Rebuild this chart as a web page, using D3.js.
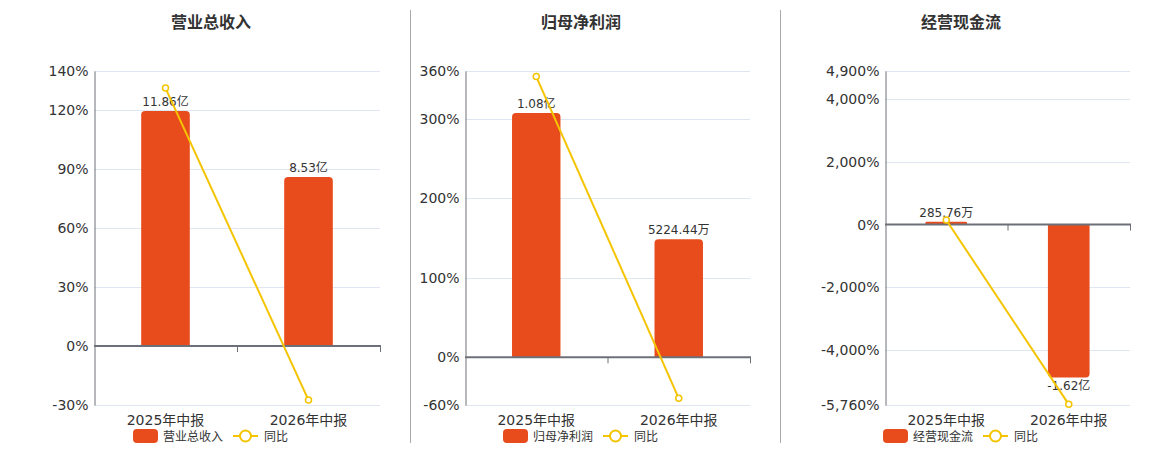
<!DOCTYPE html>
<html>
<head>
<meta charset="utf-8">
<script src="https://cdn.jsdelivr.net/npm/d3@7"></script>
<style>
  body { margin: 0; background: #fff; }
  svg { display: block; font-family: "DejaVu Sans", "Noto Sans CJK SC", sans-serif; }
</style>
</head>
<body>
<svg id="chart" width="1160" height="450"></svg>
<script>
// categories shared by the three panels
var categories = ['2025年中报', '2026年中报'];

// 营业总收入 (亿) and its yoy %
var revenueValues = [11.86, 8.53];
var revenueLabels = ['11.86亿', '8.53亿'];
var revenueYoy = [131.3, -27.5];
var revenueTicks = [-30, 0, 30, 60, 90, 120, 140];
var revenueBarDomain = [-2.97, 13.88];

// 归母净利润 (亿)
var profitValues = [1.08, 0.522444];
var profitLabels = ['1.08亿', '5224.44万'];
var profitYoy = [353, -51.6];
var profitTicks = [-60, 0, 100, 200, 300, 360];
var profitBarDomain = [-0.211, 1.266];

// 经营现金流 (亿)
var cashValues = [0.028576, -1.62];
var cashLabels = ['285.76万', '-1.62亿'];
var cashYoy = [144, -5740];
var cashTicks = [-5760, -4000, -2000, 0, 2000, 4000, 4900];
var cashBarDomain = [-1.911, 1.626];

var BAR = '#e84c1d', LINE = '#f5c400', AXIS = '#6e7079', GRID = '#e0e6f1', TXT = '#333';

var panels = [
    { title: '营业总收入', titleX: 211, left: 94, right: 380, values: revenueValues, labels: revenueLabels,
      yoy: revenueYoy, ticks: revenueTicks, barDomain: revenueBarDomain, legendX: 133 },
    { title: '归母净利润', titleX: 581, left: 465, right: 750, values: profitValues, labels: profitLabels,
      yoy: profitYoy, ticks: profitTicks, barDomain: profitBarDomain, legendX: 503 },
    { title: '经营现金流', titleX: 961, left: 885, right: 1130, values: cashValues, labels: cashLabels,
      yoy: cashYoy, ticks: cashTicks, barDomain: cashBarDomain, legendX: 883 }
];

var plotTop = 71, plotBottom = 405;
var svg = d3.select('#chart');
// plain hyphen for negatives, like the original
var fmt = d3.formatLocale({ decimal: '.', thousands: ',', grouping: [3], currency: ['', ''], minus: '-' }).format(',');

// separators between panels
[410, 780].forEach(function(x) {
    svg.append('line').attr('x1', x + 0.5).attr('x2', x + 0.5).attr('y1', 10).attr('y2', 443)
        .attr('stroke', '#aaa').attr('stroke-width', 1);
});

function barPath(x, y0, y1, w, r) {
    // rounded corners on the end away from zero
    var h = Math.abs(y1 - y0);
    r = Math.min(r, h / 2, w / 2);
    if (y1 < y0) {
        return 'M' + x + ',' + y0 + 'V' + (y1 + r) + 'Q' + x + ',' + y1 + ' ' + (x + r) + ',' + y1 +
            'H' + (x + w - r) + 'Q' + (x + w) + ',' + y1 + ' ' + (x + w) + ',' + (y1 + r) + 'V' + y0 + 'Z';
    }
    return 'M' + x + ',' + y0 + 'V' + (y1 - r) + 'Q' + x + ',' + y1 + ' ' + (x + r) + ',' + y1 +
        'H' + (x + w - r) + 'Q' + (x + w) + ',' + y1 + ' ' + (x + w) + ',' + (y1 - r) + 'V' + y0 + 'Z';
}

panels.forEach(function(p) {
    var g = svg.append('g');
    var x = d3.scaleBand().domain(categories).range([p.left, p.right]);
    var yPct = d3.scaleLinear().domain([p.ticks[0], p.ticks[p.ticks.length - 1]]).range([plotBottom, plotTop]);
    var yBar = d3.scaleLinear().domain(p.barDomain).range([plotBottom, plotTop]);
    var zero = yPct(0);

    g.append('text').attr('x', p.titleX).attr('y', 28).attr('text-anchor', 'middle')
        .attr('font-size', 16).attr('font-weight', 'bold').attr('fill', TXT).text(p.title);

    // grid
    g.selectAll('.grid').data(p.ticks.filter(function(t) { return t !== 0; })).enter().append('line')
        .attr('x1', p.left).attr('x2', p.right)
        .attr('y1', function(d) { return Math.round(yPct(d)) + 0.5; })
        .attr('y2', function(d) { return Math.round(yPct(d)) + 0.5; })
        .attr('stroke', GRID);

    // left axis with percent labels
    var yAxis = d3.axisLeft(yPct).tickValues(p.ticks).tickSize(0).tickPadding(6)
        .tickFormat(function(d) { return fmt(d) + '%'; });
    var ya = g.append('g').attr('transform', 'translate(' + (p.left + 0.5) + ',0)').call(yAxis);
    ya.select('.domain').attr('stroke', AXIS);
    ya.selectAll('text').attr('font-size', 14).attr('fill', TXT).attr('font-family', '"DejaVu Sans", sans-serif');

    // bars
    var bw = x.bandwidth() * 0.34;
    g.selectAll('.bar').data(p.values).enter().append('path')
        .attr('d', function(d, i) {
            return barPath(x(categories[i]) + (x.bandwidth() - bw) / 2, yBar(0), yBar(d), bw, 4);
        })
        .attr('fill', BAR);

    g.selectAll('.blabel').data(p.values).enter().append('text')
        .attr('x', function(d, i) { return x(categories[i]) + x.bandwidth() / 2; })
        .attr('y', function(d) { return d >= 0 ? yBar(d) - 5 : yBar(d) + 12; })
        .attr('text-anchor', 'middle').attr('font-size', 12).attr('fill', TXT)
        .text(function(d, i) { return p.labels[i]; });

    // zero axis with category ticks
    g.append('line').attr('x1', p.left).attr('x2', p.right + 1).attr('y1', zero).attr('y2', zero)
        .attr('stroke', AXIS).attr('stroke-width', 2);
    g.selectAll('.xtick').data(categories).enter().append('line')
        .attr('x1', function(d) { return x(d) + x.bandwidth() + 0.5; })
        .attr('x2', function(d) { return x(d) + x.bandwidth() + 0.5; })
        .attr('y1', zero).attr('y2', zero + 6).attr('stroke', AXIS);

    g.selectAll('.xlabel').data(categories).enter().append('text')
        .attr('x', function(d) { return x(d) + x.bandwidth() / 2; })
        .attr('y', 425).attr('text-anchor', 'middle').attr('font-size', 14).attr('fill', TXT)
        .text(function(d) { return d; });

    // yoy line
    var line = d3.line()
        .x(function(d, i) { return x(categories[i]) + x.bandwidth() / 2; })
        .y(function(d) { return yPct(d); });
    g.append('path').datum(p.yoy).attr('d', line).attr('fill', 'none')
        .attr('stroke', LINE).attr('stroke-width', 2);
    g.selectAll('.pt').data(p.yoy).enter().append('circle')
        .attr('cx', function(d, i) { return x(categories[i]) + x.bandwidth() / 2; })
        .attr('cy', function(d) { return yPct(d); })
        .attr('r', 3).attr('fill', '#fff').attr('stroke', LINE).attr('stroke-width', 1.5);

    // legend
    var lg = g.append('g').attr('transform', 'translate(' + p.legendX + ',436)');
    lg.append('rect').attr('x', 0).attr('y', -7).attr('width', 25).attr('height', 14).attr('rx', 4).attr('fill', BAR);
    lg.append('text').attr('x', 30).attr('y', 4.5).attr('font-size', 12).attr('fill', TXT).text(p.title);
    lg.append('line').attr('x1', 100).attr('x2', 125).attr('y1', 0).attr('y2', 0).attr('stroke', LINE).attr('stroke-width', 2);
    lg.append('circle').attr('cx', 112.5).attr('cy', 0).attr('r', 5.5).attr('fill', '#fff').attr('stroke', LINE).attr('stroke-width', 2);
    lg.append('text').attr('x', 131).attr('y', 4.5).attr('font-size', 12).attr('fill', TXT).text('同比');
});
</script>
</body>
</html>
